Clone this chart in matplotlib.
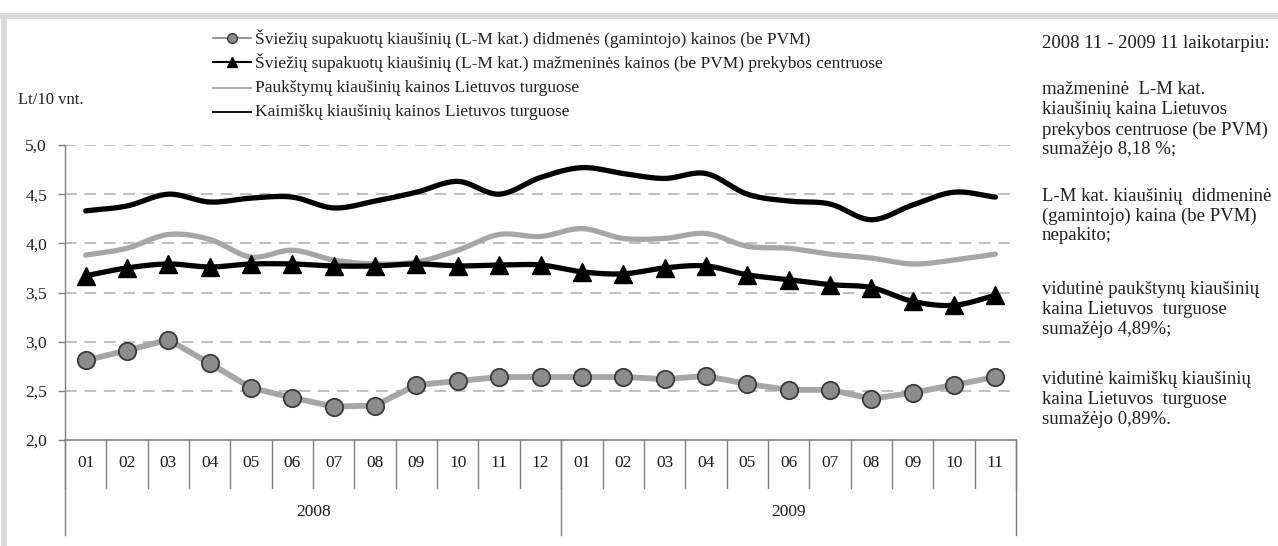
import numpy as np
import matplotlib
matplotlib.use("Agg")
import matplotlib.pyplot as plt
import matplotlib.transforms as mtransforms
from matplotlib.lines import Line2D
from matplotlib.patches import Rectangle

# ---------------- data ----------------
months = ["01", "02", "03", "04", "05", "06", "07", "08", "09", "10", "11", "12",
          "01", "02", "03", "04", "05", "06", "07", "08", "09", "10", "11"]
years = ["2008", "2009"]
year_counts = [12, 11]

wholesale = [2.81, 2.91, 3.02, 2.78, 2.53, 2.43, 2.34, 2.35, 2.56, 2.60, 2.64, 2.64,
             2.64, 2.64, 2.62, 2.65, 2.57, 2.51, 2.51, 2.42, 2.48, 2.56, 2.64]
retail = [3.67, 3.75, 3.79, 3.76, 3.79, 3.79, 3.77, 3.77, 3.79, 3.77, 3.78, 3.78,
          3.71, 3.69, 3.75, 3.77, 3.68, 3.63, 3.58, 3.55, 3.41, 3.37, 3.47]
poultry = [3.88, 3.95, 4.09, 4.04, 3.86, 3.93, 3.83, 3.79, 3.81, 3.93, 4.09, 4.07,
           4.15, 4.05, 4.05, 4.10, 3.97, 3.95, 3.89, 3.85, 3.79, 3.83, 3.89]
rural = [4.33, 4.38, 4.50, 4.42, 4.46, 4.47, 4.36, 4.43, 4.52, 4.63, 4.50, 4.67,
         4.77, 4.71, 4.66, 4.71, 4.50, 4.43, 4.40, 4.24, 4.39, 4.52, 4.47]

series_labels = [
    "Šviežių supakuotų kiaušinių (L-M kat.) didmenės (gamintojo) kainos (be PVM)",
    "Šviežių supakuotų kiaušinių (L-M kat.) mažmeninės kainos (be PVM) prekybos centruose",
    "Paukštymų kiaušinių kainos Lietuvos turguose",
    "Kaimiškų kiaušinių kainos Lietuvos turguose",
]
y_ticks = [2.0, 2.5, 3.0, 3.5, 4.0, 4.5, 5.0]
y_unit = "Lt/10 vnt."

side_header = "2008 11 - 2009 11 laikotarpiu:"
side_blocks = [
    ["mažmeninė  L-M kat.", "kiaušinių kaina Lietuvos", "prekybos centruose (be PVM)", "sumažėjo 8,18 %;"],
    ["L-M kat. kiaušinių  didmeninė", "(gamintojo) kaina (be PVM)", "nepakito;"],
    ["vidutinė paukštynų kiaušinių", "kaina Lietuvos  turguose", "sumažėjo 4,89%;"],
    ["vidutinė kaimiškų kiaušinių", "kaina Lietuvos  turguose", "sumažėjo 0,89%."],
]

# ---------------- helpers ----------------
W, H = 1278, 546
FONT = "Liberation Serif"
TXT = "#1e1e1e"


def fx(px):
    return px / W


def fy(py):
    return 1 - py / H


def smooth(x, y, n=20):
    pts = np.column_stack([x, y]).astype(float)
    P = np.vstack([2 * pts[0] - pts[1], pts, 2 * pts[-1] - pts[-2]])
    out = []
    t = np.linspace(0, 1, n, endpoint=False)[:, None]
    for i in range(len(pts) - 1):
        p0, p1, p2, p3 = P[i], P[i + 1], P[i + 2], P[i + 3]
        seg = 0.5 * ((2 * p1) + (-p0 + p2) * t + (2 * p0 - 5 * p1 + 4 * p2 - p3) * t ** 2
                     + (-p0 + 3 * p1 - 3 * p2 + p3) * t ** 3)
        out.append(seg)
    out.append(pts[-1:])
    s = np.vstack(out)
    return s[:, 0], s[:, 1]


fig = plt.figure(figsize=(W / 100, H / 100), dpi=100)
fig.patch.set_facecolor("white")

# document frame (gray bands)
fig.add_artist(Rectangle((0, fy(19)), 1, fy(13) - fy(19), transform=fig.transFigure,
                         facecolor="#d9d9d9", edgecolor="none"))
fig.add_artist(Rectangle((fx(1), 0), fx(6), fy(19), transform=fig.transFigure,
                         facecolor="#d9d9d9", edgecolor="none"))

ax_left, ax_right, ax_top, ax_bot = 65, 1016, 145, 440
ax = fig.add_axes([fx(ax_left), fy(ax_bot), fx(ax_right - ax_left), fy(ax_top) - fy(ax_bot)])
n = len(months)
x = np.arange(n)
ax.set_xlim(-0.5, n - 0.5)
ax.set_ylim(2.0, 5.0)
ax.set_facecolor("none")

for s in ["top", "right", "bottom"]:
    ax.spines[s].set_visible(False)
ax.spines["left"].set_color("#808080")
ax.spines["left"].set_linewidth(1.0)

ax.set_yticks(y_ticks)
ax.set_yticklabels([f"{v:.1f}".replace(".", ",") for v in y_ticks], fontfamily=FONT,
                   fontsize=12.5, color=TXT)
ax.tick_params(axis="y", length=5, color="#808080", width=1, pad=8)
ax.set_xticks([])

for v in y_ticks[1:]:
    ax.axhline(v, color="#bfbfbf", lw=1.4, ls=(0, (6, 4)), zorder=1)

# series
ws_style = dict(color="#a6a6a6", lw=4.2)
rt_style = dict(color="black", lw=3.8)
pl_style = dict(color="#a6a6a6", lw=3.8)
ru_style = dict(color="black", lw=3.8)

sx, sy = smooth(x, rural)
ax.plot(sx, sy, zorder=3, solid_capstyle="round", **ru_style)
sx, sy = smooth(x, poultry)
ax.plot(sx, sy, zorder=3, solid_capstyle="round", **pl_style)
sx, sy = smooth(x, retail)
ax.plot(sx, sy, zorder=4, solid_capstyle="round", **rt_style)
ax.plot(x, retail, ls="none", marker="^", ms=12.5, mfc="black", mec="black", zorder=5)
ax.plot(x, wholesale, zorder=4, solid_capstyle="round", **ws_style)
ax.plot(x, wholesale, ls="none", marker="o", ms=12.5, mfc="#8c8c8c", mec="#3a3a3a", mew=1.3, zorder=5)

# multi-level category axis
trans = mtransforms.blended_transform_factory(ax.transData, fig.transFigure)
axis_col = "#808080"
ax.add_line(Line2D([-0.5, n - 0.5], [fy(ax_bot), fy(ax_bot)], transform=trans,
                   color=axis_col, lw=1.2, clip_on=False))
for i, m in enumerate(months):
    fig.text(i, fy(463), m, transform=trans, ha="center", va="center",
             fontfamily=FONT, fontsize=12.5, color=TXT)
for b in range(n + 1):
    fig.add_artist(Line2D([b - 0.5, b - 0.5], [fy(ax_bot), fy(488)], transform=trans,
                          color=axis_col, lw=1.0))
start = 0
bounds = [0]
for yl, c in zip(years, year_counts):
    fig.text(start + c / 2 - 0.5, fy(512), yl, transform=trans, ha="center", va="center",
             fontfamily=FONT, fontsize=12.5, color=TXT)
    start += c
    bounds.append(start)
for b in bounds:
    fig.add_artist(Line2D([b - 0.5, b - 0.5], [fy(ax_bot), fy(535)], transform=trans,
                          color=axis_col, lw=1.0))

# unit label
fig.text(fx(18), fy(100), y_unit, ha="left", va="center", fontfamily=FONT, fontsize=12, color=TXT)

# legend (manual)
leg_rows = [38, 62, 88, 112]
styles = [
    dict(color="#808080", lw=1.2, marker="o", ms=7, mfc="#8c8c8c", mec="#3a3a3a"),
    dict(color="black", lw=1.5, marker="^", ms=7, mfc="black", mec="black"),
    dict(color="#a6a6a6", lw=1.3),
    dict(color="black", lw=1.3),
]
for yy, lab, st in zip(leg_rows, series_labels, styles):
    fig.add_artist(Line2D([fx(213), fx(251)], [fy(yy), fy(yy)], transform=fig.transFigure,
                          **{k: v for k, v in st.items() if k in ("color", "lw")}))
    if "marker" in st:
        fig.add_artist(Line2D([fx(232)], [fy(yy)], transform=fig.transFigure, ls="none",
                              marker=st["marker"], ms=st["ms"], mfc=st["mfc"], mec=st["mec"]))
    fig.text(fx(255), fy(yy), lab, ha="left", va="center", fontfamily=FONT, fontsize=12.5, color=TXT)

# side notes
fig.text(fx(1042), fy(44), side_header, ha="left", va="center", fontfamily=FONT, fontsize=13.5, color=TXT)
block_starts = [90, 196, 289, 380]
for st, lines in zip(block_starts, side_blocks):
    for k, line in enumerate(lines):
        fig.text(fx(1042), fy(st + 20 * k), line, ha="left", va="center", fontfamily=FONT,
                 fontsize=13.5, color=TXT)

fig.savefig("out.png", dpi=100, facecolor="white")
